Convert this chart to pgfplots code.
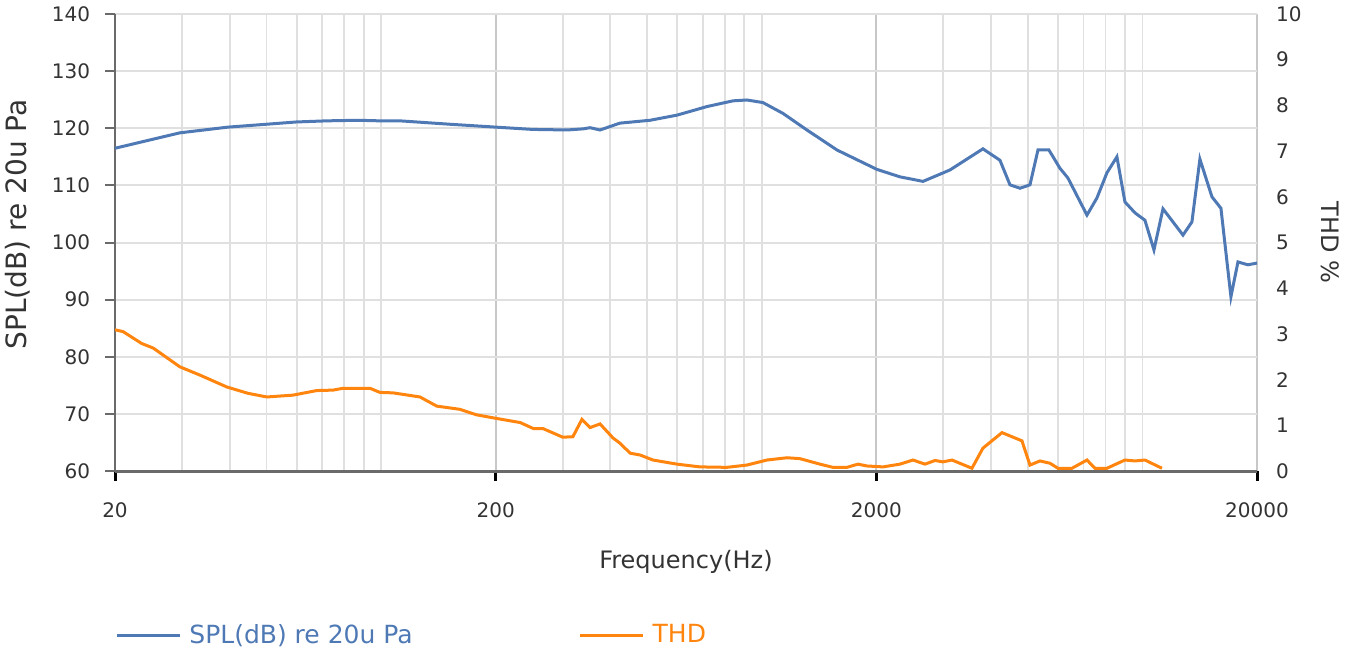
\documentclass[border=0pt]{standalone}
\usepackage{pgfplots}
\pgfplotsset{compat=1.18}
\usepackage{fontspec}
\setmainfont{DejaVu Sans}
\definecolor{splblue}{HTML}{4E79B4}
\definecolor{thdorange}{HTML}{FF850F}
\definecolor{axgray}{HTML}{6A6A6A}
\definecolor{gridmin}{HTML}{E0E0E0}
\definecolor{gridmaj}{HTML}{C8C8C8}
\definecolor{txtgray}{HTML}{333333}

\pgfplotstableread{
f spl
20 116.5
29.6 119.2
39.6 120.2
49.9 120.7
59.8 121.1
72 121.3
87 121.4
99 121.3
112 121.3
152 120.7
200 120.2
250 119.8
308 119.7
340 119.9
354 120.1
376 119.7
424 120.9
509 121.4
599 122.3
718 123.8
840 124.8
914 124.95
1007 124.5
1137 122.6
1314 119.7
1576 116.2
1704 115.1
2007 112.8
2306 111.5
2652 110.7
3122 112.7
3811 116.4
4224 114.4
4488 110.1
4768 109.5
5065 110.1
5316 116.2
5680 116.2
6072 113.0
6371 111.3
7150 104.8
7595 107.8
8067 112.2
8570 115.0
8996 107.1
9558 105.2
10152 103.9
10722 98.7
11324 105.9
12780 101.3
13490 103.6
14158 114.6
15226 108.0
16078 106.0
17080 90.5
17822 96.6
18928 96.1
20000 96.4
}\spltable

\pgfplotstableread{
f thd
20 3.09
21.0 3.05
23.5 2.79
25.2 2.69
29.6 2.28
33.4 2.10
39.3 1.84
44.7 1.70
50.1 1.62
58.7 1.66
67.7 1.76
74.8 1.77
79.4 1.81
93.5 1.81
99.3 1.72
107.5 1.71
126.5 1.62
140 1.42
161 1.35
178 1.23
201 1.15
232 1.06
251 0.93
266 0.93
300 0.74
319 0.75
337 1.13
354 0.95
376 1.03
407 0.72
424 0.61
451 0.39
479 0.35
518 0.24
599 0.15
688 0.09
810 0.08
914 0.13
1032 0.24
1165 0.29
1260 0.27
1422 0.15
1538 0.08
1674 0.08
1789 0.15
1890 0.11
2082 0.09
2306 0.15
2496 0.24
2684 0.15
2851 0.23
2992 0.20
3160 0.24
3566 0.06
3811 0.50
4276 0.84
4825 0.66
5065 0.13
5380 0.22
5716 0.17
5998 0.06
6530 0.06
7150 0.24
7504 0.06
8067 0.06
8996 0.24
9558 0.22
10152 0.24
11256 0.06
}\thdtable

\begin{document}
\begin{tikzpicture}[font=\fontsize{10}{12}\selectfont]
\path[use as bounding box] (-57.5pt,-92pt) rectangle (623pt,235.5pt);
\begin{axis}[
  at={(0pt,0pt)}, anchor=south west,
  scale only axis, width=571pt, height=228.5pt,
  xmode=log, xmin=20, xmax=20000,
  ymin=60, ymax=140,
  xtick={20,200,2000,20000},
  xticklabels={20,200,2000,20000},
  minor xtick={30,40,50,60,70,80,90,100,300,400,500,600,700,800,900,1000,3000,4000,5000,6000,7000,8000,9000,10000},
  ytick={60,70,...,140},
  axis x line*=bottom, axis y line*=left,
  x axis line style={axgray, line width=1.5pt, -},
  y axis line style={axgray, line width=1pt, -},
  xmajorgrids, xminorgrids, ymajorgrids,
  major x grid style={gridmaj, line width=0.9pt},
  minor x grid style={gridmin, line width=0.9pt},
  major y grid style={gridmin, line width=1pt},
  tick align=outside,
  major tick length=5pt,
  minor tick length=0pt,
  x tick style={black, line width=1.5pt},
  y tick style={axgray, line width=1pt},
  tick label style={text=txtgray, font=\fontsize{10}{12}\selectfont},
  /pgf/number format/assume math mode=true,
  xticklabel style={yshift=-7.5pt},
  yticklabel style={xshift=-4pt},
  xlabel={Frequency(Hz)},
  xlabel style={font=\fontsize{12}{14}\selectfont, text=txtgray, at={(axis description cs:0.5,0)}, anchor=center, yshift=-45.5pt},
  ylabel={SPL(dB) re 20u Pa},
  ylabel style={font=\fontsize{14}{16}\selectfont, text=txtgray, at={(axis description cs:-0.0849,0.54)}, anchor=center},
  legend style={draw=none, fill=none, at={(axis description cs:0,-0.359)}, anchor=west, legend columns=2, inner sep=0pt, font=\fontsize{12.5}{14}\selectfont, /tikz/every even column/.append style={column sep=81pt}},
  legend image code/.code={\draw[#1] (-1.5pt,0pt) -- (30pt,0pt);},
  legend cell align=left,
  clip=false,
]
\addplot[splblue, line width=1.5pt] table[x=f, y=spl] {\spltable};
\addlegendentry{\hspace{2pt}\textcolor{splblue}{SPL(dB) re 20u Pa}}
\addlegendimage{thdorange, line width=1.5pt}
\addlegendentry{\hspace{2pt}\textcolor{thdorange}{THD}}
\end{axis}
\begin{axis}[
  at={(0pt,0pt)}, anchor=south west,
  scale only axis, width=571pt, height=228.5pt,
  xmode=log, xmin=20, xmax=20000,
  ymin=0, ymax=10,
  ytick={0,1,...,10},
  axis x line=none, axis y line*=right,
  y axis line style={draw=none},
  major tick length=0pt,
  tick label style={text=txtgray, font=\fontsize{10}{12}\selectfont},
  /pgf/number format/assume math mode=true,
  yticklabel style={anchor=west, xshift=6pt},
  ylabel={THD \%},
  ylabel style={font=\fontsize{12}{14}\selectfont, text=txtgray, at={(axis description cs:1.0639,0.5)}, anchor=center, rotate=180},
]
\addplot[thdorange, line width=1.5pt] table[x=f, y=thd] {\thdtable};
\end{axis}
\end{tikzpicture}
\end{document}
